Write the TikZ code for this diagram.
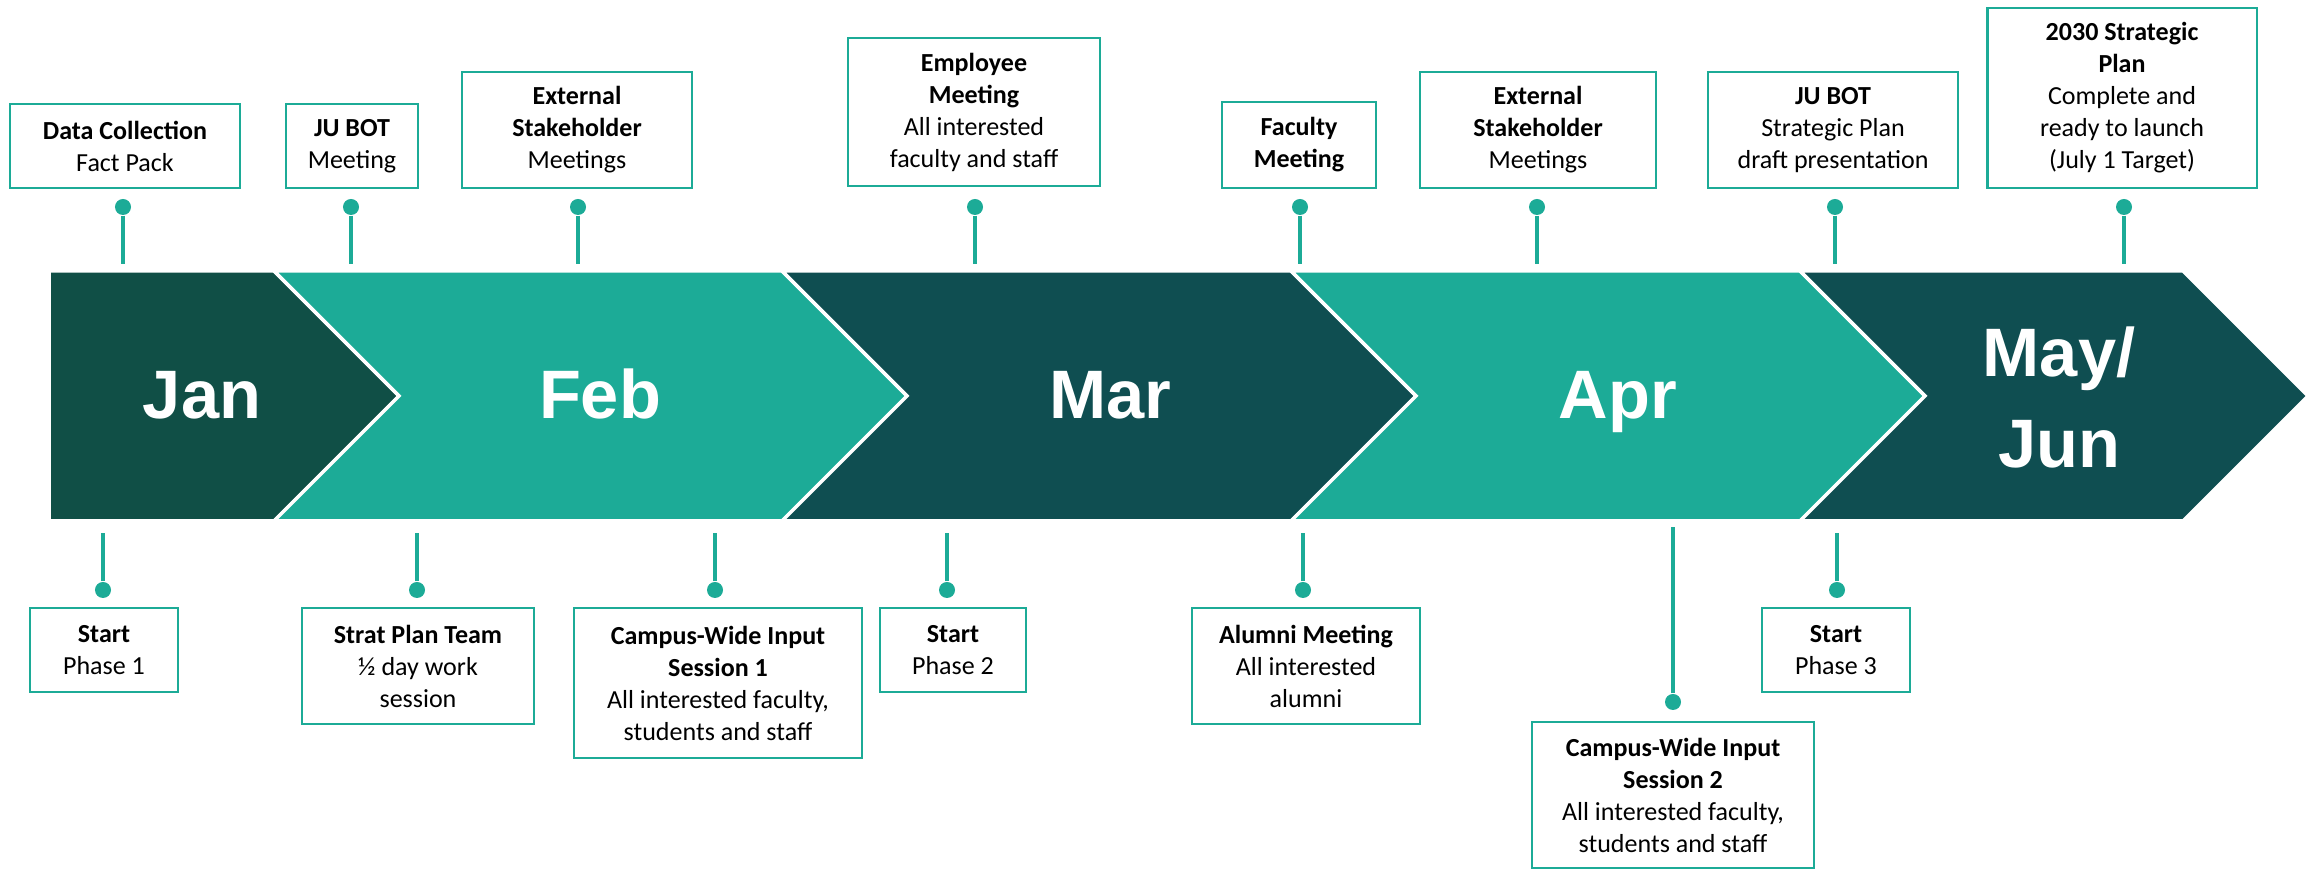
\documentclass[tikz,border=0pt]{standalone}
\usepackage{fontspec}
\setmainfont{Carlito}
\newfontfamily\monthfont{Liberation Sans}
\usepackage{tikz}
\definecolor{jandark}{RGB}{16,79,70}
\definecolor{phasedark}{RGB}{15,78,81}
\definecolor{phaseteal}{RGB}{28,171,151}

\tikzset{
  evbox/.style={draw=phaseteal, line width=0.6pt, fill=white, align=center, inner sep=0pt, font=\fontsize{7.4}{9.1}\selectfont},
  pindot/.style={circle, fill=phaseteal, inner sep=0pt, minimum size=0.16cm},
  pinline/.style={draw=phaseteal, line width=1.1pt},
  month/.style={text=white, align=center, font=\monthfont\bfseries\fontsize{19.5}{26}\selectfont},
  chevron/.style={draw=white, line width=1pt}
}

\begin{document}
\begin{tikzpicture}[x=0.01cm, y=-0.01cm]
  \useasboundingbox (0,0) rectangle (2321,871);

  % Month chevrons
  \draw[chevron, fill=jandark] (49,271) -- (274,271) -- (399,396) -- (274,521) -- (49,521) -- cycle;
  \draw[chevron, fill=phaseteal] (274,271) -- (782,271) -- (907,396) -- (782,521) -- (274,521) -- (399,396) -- cycle;
  \draw[chevron, fill=phasedark] (782,271) -- (1291,271) -- (1416,396) -- (1291,521) -- (782,521) -- (907,396) -- cycle;
  \draw[chevron, fill=phaseteal] (1291,271) -- (1800,271) -- (1925,396) -- (1800,521) -- (1291,521) -- (1416,396) -- cycle;
  \draw[chevron, fill=phasedark] (1800,271) -- (2183,271) -- (2308,396) -- (2183,521) -- (1800,521) -- (1925,396) -- cycle;

  \node[month, anchor=base] (jan) at (202,419) {Jan};
  \node[month, anchor=base] (feb) at (600,419) {Feb};
  \node[month, anchor=base] (mar) at (1110,419) {Mar};
  \node[month, anchor=base] (apr) at (1618,419) {Apr};
  \node[month, anchor=base] (mayjun) at (2059,468) {May/\\Jun};

  % Top events
  \node[evbox, minimum width=2.30cm, minimum height=0.84cm] (datacoll) at (125,146) {\textbf{Data Collection}\\Fact Pack};
  \node[evbox, minimum width=1.32cm, minimum height=0.84cm] (jubot) at (352,146) {\textbf{JU BOT}\\Meeting};
  \node[evbox, minimum width=2.29cm, minimum height=1.16cm] (extstake) at (577,130) {\textbf{External}\\\textbf{Stakeholder}\\Meetings};
  \node[evbox, minimum width=2.52cm, minimum height=1.48cm] (employee) at (974,112) {\textbf{Employee}\\\textbf{Meeting}\\All interested\\faculty and staff};
  \node[evbox, minimum width=1.54cm, minimum height=0.86cm] (faculty) at (1299,145) {\textbf{Faculty}\\\textbf{Meeting}};
  \node[evbox, minimum width=2.36cm, minimum height=1.16cm] (extstaketwo) at (1538,130) {\textbf{External}\\\textbf{Stakeholder}\\Meetings};
  \node[evbox, minimum width=2.50cm, minimum height=1.16cm] (jubottwo) at (1833,130) {\textbf{JU BOT}\\Strategic Plan\\draft presentation};
  \node[evbox, minimum width=2.69cm, minimum height=1.80cm] (plan) at (2122,98) {\textbf{2030 Strategic}\\\textbf{Plan}\\Complete and\\ready to launch\\(July 1 Target)};

  % Top pins
  \foreach \n/\x in {1/123, 2/351, 3/578, 4/975, 5/1300, 6/1537, 7/1835, 8/2124} {
    \node[pindot] (tp\n) at (\x,207) {};
    \coordinate (tb\n) at (\x,264);
    \draw[pinline] (tp\n) -- (tb\n);
  }

  % Bottom events
  \node[evbox, minimum width=1.48cm, minimum height=0.84cm] (phaseone) at (104,650) {\textbf{Start}\\Phase 1};
  \node[evbox, minimum width=2.32cm, minimum height=1.16cm] (stratteam) at (418,666) {\textbf{Strat Plan Team}\\½ day work\\session};
  \node[evbox, minimum width=2.88cm, minimum height=1.50cm] (campusone) at (718,683) {\textbf{Campus-Wide Input}\\\textbf{Session 1}\\All interested faculty,\\students and staff};
  \node[evbox, minimum width=1.46cm, minimum height=0.84cm] (phasetwo) at (953,650) {\textbf{Start}\\Phase 2};
  \node[evbox, minimum width=2.28cm, minimum height=1.16cm] (alumni) at (1306,666) {\textbf{Alumni Meeting}\\All interested\\alumni};
  \node[evbox, minimum width=2.82cm, minimum height=1.46cm] (campustwo) at (1673,795) {\textbf{Campus-Wide Input}\\\textbf{Session 2}\\All interested faculty,\\students and staff};
  \node[evbox, minimum width=1.48cm, minimum height=0.84cm] (phasethree) at (1836,650) {\textbf{Start}\\Phase 3};

  % Bottom pins
  \foreach \n/\x in {1/103, 2/417, 3/715, 4/947, 5/1303, 7/1837} {
    \node[pindot] (bp\n) at (\x,590) {};
    \coordinate (bb\n) at (\x,533);
    \draw[pinline] (bp\n) -- (bb\n);
  }
  \node[pindot] (bp6) at (1673,702) {};
  \coordinate (bb6) at (1673,527);
  \draw[pinline] (bp6) -- (bb6);
\end{tikzpicture}
\end{document}
